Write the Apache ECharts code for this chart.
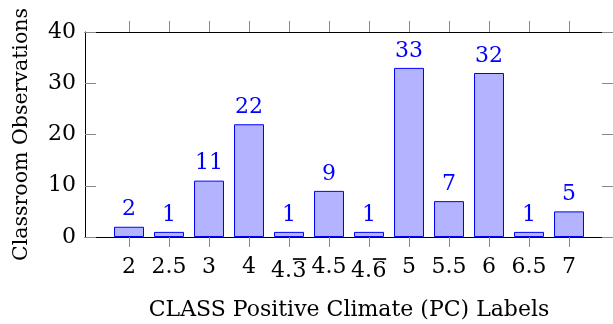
<!DOCTYPE html>
<html><head><meta charset="utf-8">
<script src="https://cdn.jsdelivr.net/npm/echarts@6/dist/echarts.min.js"></script>
<style>html,body{margin:0;padding:0;background:#fff}#c{width:613px;height:324px}</style>
</head><body><div id="c"></div>
<script>
var categories = ['2','2.5','3','4','4.{ov|3}','4.5','4.{ov|6}','5','5.5','6','6.5','7'];
var values = [2,1,11,22,1,9,1,33,7,32,1,5];
var yTicks = [0,10,20,30,40];

var FONT = "DejaVu Serif";
var idx = categories.map(function(_, i){ return i; });

// overline image used as rich-text background
var ovCanvas = document.createElement('canvas');
ovCanvas.width = 20; ovCanvas.height = 40;
(function(){ var g = ovCanvas.getContext('2d'); g.fillStyle = '#000'; g.fillRect(1, 3, 18, 2); })();

var chart = echarts.init(document.getElementById('c'), null, {renderer:'canvas'});
chart.setOption({
  animation:false,
  textStyle:{fontFamily:FONT},
  grid:{left:85,right:0,top:32,bottom:87, outerBoundsMode:'none', containLabel:false},
  xAxis:[{
    type:'value', position:'bottom', min:-1.1, max:12.1,
    splitLine:{show:false},
    axisLine:{onZero:false, lineStyle:{color:'#000',width:1}},
    axisTick:{show:true, customValues:idx, length:10, inside:false, lineStyle:{color:'#888'}},
    axisLabel:{customValues:idx, formatter:function(v){return categories[Math.round(v)];}, color:'#000', fontFamily:FONT, fontSize:22, margin:19,
      rich:{ov:{fontFamily:FONT, fontSize:22, color:'#000', height:30, lineHeight:30, verticalAlign:'bottom', backgroundColor:{image:ovCanvas}}}},
    name:'CLASS Positive Climate (PC) Labels', nameLocation:'middle', nameGap:62,
    nameTextStyle:{color:'#000', fontFamily:FONT, fontSize:22}
  },{
    type:'value', position:'top', min:-1.1, max:12.1,
    splitLine:{show:false},
    axisLine:{onZero:false, lineStyle:{color:'#000',width:1}},
    axisTick:{show:true, customValues:idx, length:11, inside:false, lineStyle:{color:'#888'}},
    axisLabel:{show:false}
  }],
  yAxis:[{
    type:'value', position:'left', min:0, max:40, interval:10,
    splitLine:{show:false},
    axisLine:{show:true, onZero:false, lineStyle:{color:'#000',width:1}},
    axisTick:{show:true, inside:true, length:11, lineStyle:{color:'#888'}},
    axisLabel:{color:'#000', fontFamily:FONT, fontSize:22, margin:9},
    name:'Classroom Observations', nameLocation:'middle', nameGap:53,
    nameTextStyle:{color:'#000', fontFamily:FONT, fontSize:20.5}
  },{
    type:'value', position:'right', min:0, max:40, interval:10,
    splitLine:{show:false},
    axisLine:{show:true, onZero:false, lineStyle:{color:'#000',width:1}},
    axisTick:{show:true, inside:true, length:11, lineStyle:{color:'#888'}},
    axisLabel:{show:false}
  }],
  series:[{
    type:'bar', xAxisIndex:0, yAxisIndex:0, barWidth:30,
    data: values.map(function(v,i){ return [i, v]; }),
    itemStyle:{color:'#b3b3ff', borderColor:'#0000ff', borderWidth:1},
    label:{show:true, position:'top', distance:6, color:'#0000ff', fontFamily:FONT, fontSize:22},
    emphasis:{disabled:true}
  }]
});
</script></body></html>
